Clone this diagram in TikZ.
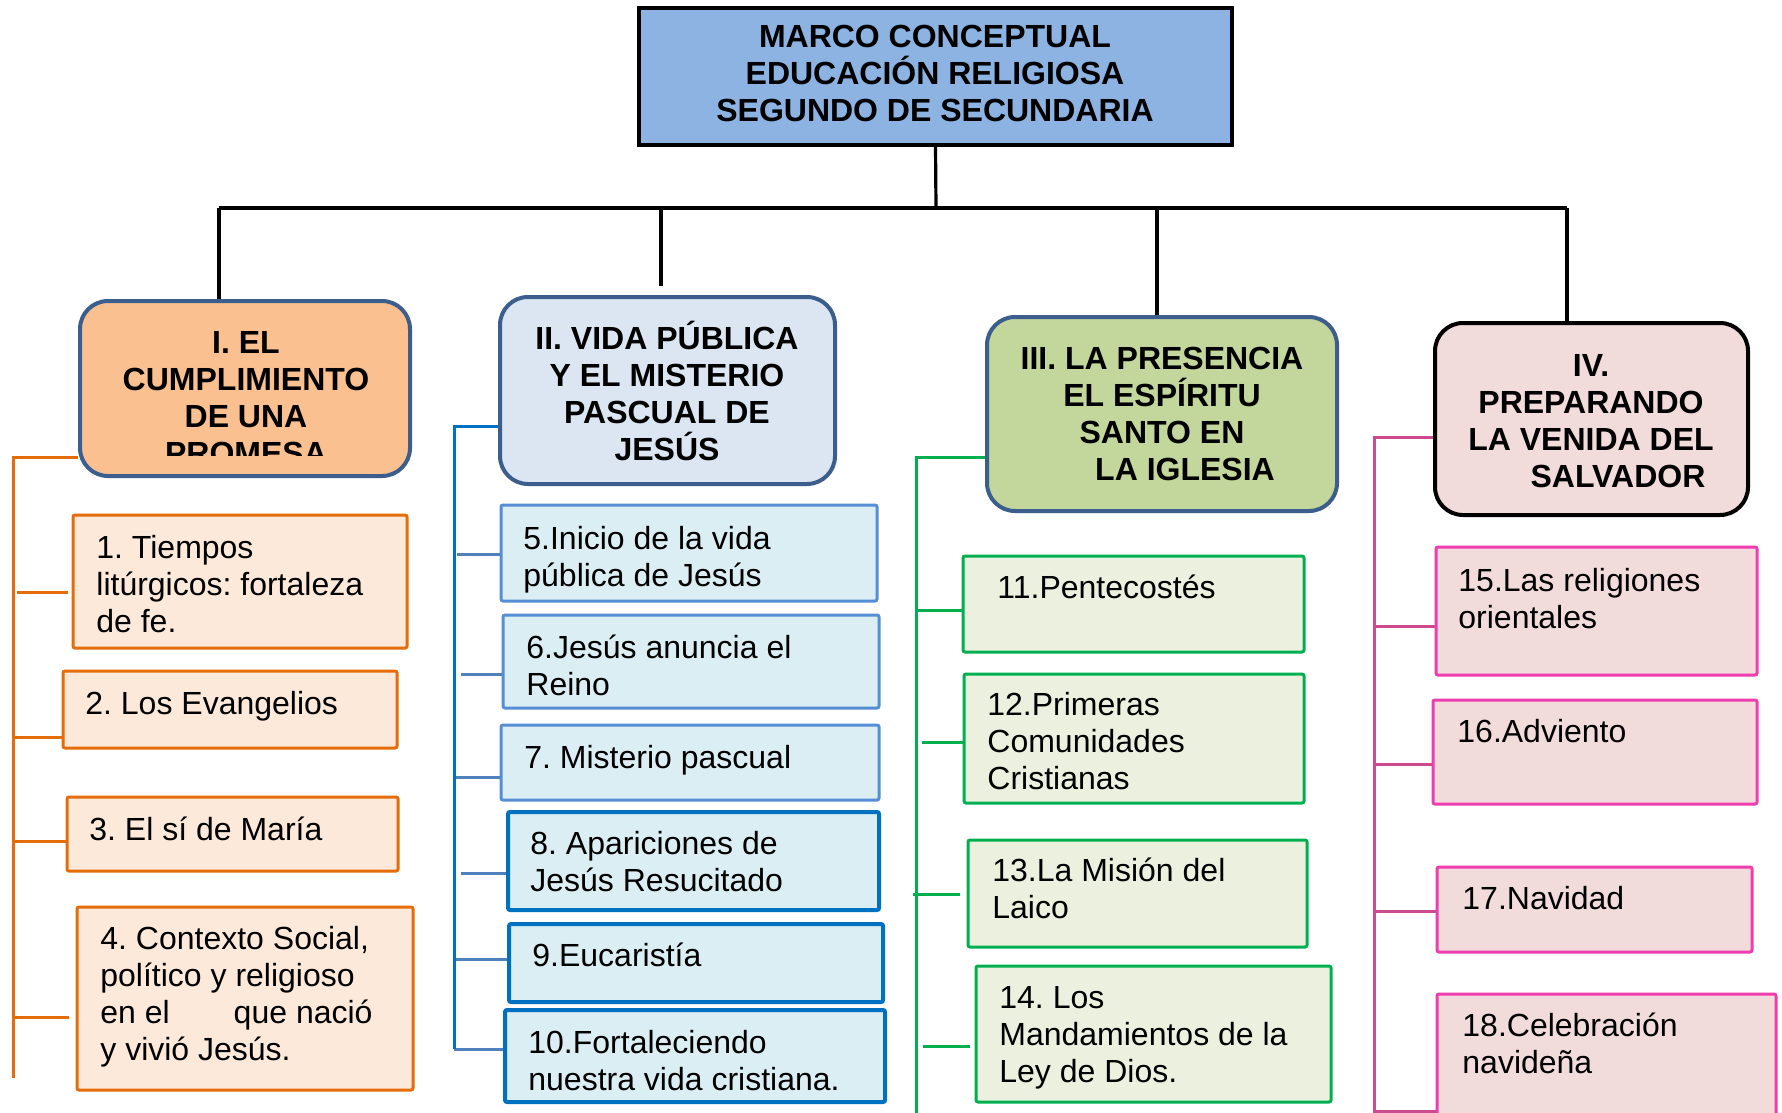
\documentclass[tikz,border=0pt]{standalone}
\usepackage{fontspec}
\setmainfont{Liberation Sans}
\usetikzlibrary{fit}
\frenchspacing
\definecolor{titlefill}{HTML}{8DB3E2}
\definecolor{hdrborder}{HTML}{3B5E8C}
\definecolor{fillI}{HTML}{FAC090}
\definecolor{fillII}{HTML}{DCE6F2}
\definecolor{fillIII}{HTML}{C3D69B}
\definecolor{fillIV}{HTML}{F2DCDB}
\definecolor{orangeL}{HTML}{E46C0A}
\definecolor{orangeF}{HTML}{FDE9D9}
\definecolor{blueV}{HTML}{0070C0}
\definecolor{blueB}{HTML}{4F81BD}
\definecolor{blueL}{HTML}{558ED5}
\definecolor{blueF}{HTML}{DBEEF4}
\definecolor{greenL}{HTML}{00B050}
\definecolor{greenF}{HTML}{EBF1DE}
\definecolor{pinkL}{HTML}{CC4A8E}
\definecolor{pinkB}{HTML}{EE3DAE}
\definecolor{pinkF}{HTML}{F2DCDB}
\newcommand{\fstrut}{\rule{0pt}{15pt}}
\tikzset{
  conn/.style={line width=1.6pt, draw=black},
  titlebox/.style={draw=black, line width=1.75pt, fill=titlefill, inner sep=0pt},
  hdrbox/.style={draw=hdrborder, line width=2pt, rounded corners=14pt, inner sep=0pt},
  kidbox/.style={line width=1.5pt, rounded corners=1pt, inner sep=0pt},
  boxI/.style={kidbox, draw=orangeL, fill=orangeF},
  boxIIa/.style={kidbox, draw=blueL, fill=blueF},
  boxIIb/.style={kidbox, draw=blueV, fill=blueF, line width=2pt},
  boxIII/.style={kidbox, draw=greenL, fill=greenF},
  boxIV/.style={kidbox, draw=pinkB, fill=pinkF},
  lineI/.style={line width=1.5pt, draw=orangeL},
  lineII/.style={line width=1.5pt, draw=blueV},
  branchII/.style={line width=1.5pt, draw=blueB},
  lineIII/.style={line width=1.5pt, draw=greenL},
  lineIV/.style={line width=1.5pt, draw=pinkL},
  bodytext/.style={anchor=north west, inner sep=0pt, align=left, font=\fontsize{16}{18.4}\selectfont\frenchspacing},
  headtext/.style={anchor=north, inner sep=0pt, align=center, font=\fontsize{16}{18.4}\selectfont\bfseries\frenchspacing},
}
\begin{document}
\begin{tikzpicture}[x=0.5pt, y=-0.5pt]
\useasboundingbox (0,0) rectangle (1782,1113);
\clip (0,0) rectangle (1782,1113);
\fill[white] (0,0) rectangle (1782,1113);

% ---------- title ----------
\node[titlebox, fit={(639,8)(1232,145)}] (title) {};
\node[headtext] (ttitle) at (935,17.5) {\fstrut MARCO CONCEPTUAL\\EDUCACIÓN RELIGIOSA\\SEGUNDO DE SECUNDARIA};

% ---------- headers ----------
\node[hdrbox, fill=fillI, fit={(80,301)(410,476)}] (hI) {};
\begin{scope}
  \clip (80,301) rectangle (410,455);
  \node[headtext] (thI) at (246,323.5) {\fstrut I. EL\\CUMPLIMIENTO\\DE UNA\\PROMESA};
\end{scope}
\node[hdrbox, fill=fillII, fit={(500,297)(835,484)}] (hII) {};
\node[headtext] (thII) at (667,319.5) {\fstrut II. VIDA PÚBLICA\\Y EL MISTERIO\\PASCUAL DE\\JESÚS};
\node[hdrbox, fill=fillIII, fit={(987,317)(1337,511)}] (hIII) {};
\node[headtext] (thIII) at (1162,339.5) {\fstrut III. LA PRESENCIA\\EL ESPÍRITU\\SANTO EN\\\hspace*{23pt}LA IGLESIA};
\node[hdrbox, draw=black, fill=fillIV, fit={(1435,323)(1748,515)}] (hIV) {};
\node[headtext] (thIV) at (1591,346.5) {\fstrut IV.\\PREPARANDO\\LA VENIDA DEL\\\hspace*{27pt}SALVADOR};

% ---------- trunk ----------
\coordinate (jI) at (219,208);
\coordinate (jII) at (661,208);
\coordinate (jIII) at (1157,208);
\coordinate (jIV) at (1567,208);
\coordinate (jM) at (936,208);
\coordinate (dII) at (661,286);
\draw[conn] (title.south) -- (jM);
\draw[conn] (jI) -- (jIV);
\draw[conn] (jI) -- (jI |- hI.north);
\draw[conn] (jII) -- (dII);
\draw[conn] (jIII) -- (jIII |- hIII.north);
\draw[conn] (jIV) -- (jIV |- hIV.north);

% ---------- column I ----------
\node[boxI, fit={(73,515)(407,648)}] (b1) {};
\node[bodytext] (t1) at (96,528.5) {\fstrut 1. Tiempos\\litúrgicos: fortaleza\\de fe.};
\node[boxI, fit={(63,671)(397,748)}] (b2) {};
\node[bodytext] (t2) at (85,684.5) {\fstrut 2. Los Evangelios};
\node[boxI, fit={(67,797)(398,871)}] (b3) {};
\node[bodytext] (t3) at (89,810.5) {\fstrut 3. El sí de María};
\node[boxI, fit={(77,907)(413,1090)}] (b4) {};
\node[bodytext] (t4) at (100,919.5) {\fstrut 4. Contexto Social,\\político y religioso\\en el\hspace{32pt}que nació\\y vivió Jesús.};
\coordinate (vItop) at (13,457);
\coordinate (vIbot) at (13,1078);
\draw[lineI] (hI.west |- vItop) -- (vItop) -- (vIbot);
\draw[lineI] (17,592) -- ([xshift=-2pt]b1.west |- 0,592);
\draw[lineI] (13,737) -- (b2.west |- 0,737);
\draw[lineI] (13,841) -- (b3.west |- 0,841);
\draw[lineI] (13,1017) -- ([xshift=-3.5pt]b4.west |- 0,1017);

% ---------- column II ----------
\node[boxIIa, fit={(501,505)(877,601)}] (b5) {};
\node[bodytext] (t5) at (523,519.5) {\fstrut 5.Inicio de la vida\\pública de Jesús};
\node[boxIIa, fit={(503,615)(879,708)}] (b6) {};
\node[bodytext] (t6) at (526,628.5) {\fstrut 6.Jesús anuncia el\\Reino};
\node[boxIIa, fit={(501,725)(879,800)}] (b7) {};
\node[bodytext] (t7) at (524,738.5) {\fstrut 7. Misterio pascual};
\node[boxIIb, fit={(508,812)(879,910)}] (b8) {};
\node[bodytext] (t8) at (530,824.5) {\fstrut 8. Apariciones de\\Jesús Resucitado};
\node[boxIIb, fit={(509,924)(883,1002)}] (b9) {};
\node[bodytext] (t9) at (532,936.5) {\fstrut 9.Eucaristía};
\node[boxIIb, fit={(505,1010)(885,1102)}] (b10) {};
\node[bodytext] (t10) at (528,1023.5) {\fstrut 10.Fortaleciendo\\nuestra vida cristiana.};
\coordinate (vIItop) at (454,426);
\coordinate (vIIbot) at (454,1049);
\draw[branchII] (457,554) -- (b5.west |- 0,554);
\draw[branchII] (461,674) -- (b6.west |- 0,674);
\draw[branchII] (454,777) -- (b7.west |- 0,777);
\draw[branchII] (461,873) -- (b8.west |- 0,873);
\draw[branchII] (454,959) -- (b9.west |- 0,959);
\draw[branchII] (vIIbot) -- (b10.west |- vIIbot);
\draw[lineII] (hII.west |- vIItop) -- (vIItop) -- (vIIbot);

% ---------- column III ----------
\node[boxIII, fit={(963,556)(1304,652)}] (b11) {};
\node[bodytext] (t11) at (997,568.5) {\fstrut 11.Pentecostés};
\node[boxIII, fit={(964,674)(1304,803)}] (b12) {};
\node[bodytext] (t12) at (987,685.5) {\fstrut 12.Primeras\\Comunidades\\Cristianas};
\node[boxIII, fit={(968,840)(1307,947)}] (b13) {};
\node[bodytext] (t13) at (992,851.5) {\fstrut 13.La Misión del\\Laico};
\node[boxIII, fit={(976,966)(1331,1102)}] (b14) {};
\node[bodytext] (t14) at (999,978.5) {\fstrut 14. Los\\Mandamientos de la\\Ley de Dios.};
\coordinate (vIIItop) at (916,457);
\coordinate (vIIIbot) at (916,1115);
\draw[lineIII] (hIII.west |- vIIItop) -- (vIIItop) -- (vIIIbot);
\draw[lineIII] (916,610) -- (b11.west |- 0,610);
\draw[lineIII] (922,742) -- (b12.west |- 0,742);
\draw[lineIII] (913,894) -- ([xshift=-3.5pt]b13.west |- 0,894);
\draw[lineIII] (923,1046) -- ([xshift=-2.5pt]b14.west |- 0,1046);

% ---------- column IV ----------
\node[boxIV, fit={(1436,547)(1757,675)}] (b15) {};
\node[bodytext] (t15) at (1458,561.5) {\fstrut 15.Las religiones\\orientales};
\node[boxIV, fit={(1433,700)(1757,804)}] (b16) {};
\node[bodytext] (t16) at (1457,712.5) {\fstrut 16.Adviento};
\node[boxIV, fit={(1437,867)(1752,952)}] (b17) {};
\node[bodytext] (t17) at (1462,879.5) {\fstrut 17.Navidad};
\node[boxIV, fit={(1437,994)(1776,1125)}] (b18) {};
\node[bodytext] (t18) at (1462,1006.5) {\fstrut 18.Celebración\\navideña};
\coordinate (vIVtop) at (1374,437);
\coordinate (vIVbot) at (1374,1115);
\draw[lineIV] (hIV.west |- vIVtop) -- (vIVtop) -- (vIVbot);
\draw[lineIV] (1374,626) -- (b15.west |- 0,626);
\draw[lineIV] (1374,764) -- (b16.west |- 0,764);
\draw[lineIV] (1374,911) -- (b17.west |- 0,911);
\draw[lineIV] (1374,1111) -- (b18.west |- 0,1111);
\end{tikzpicture}
\end{document}
